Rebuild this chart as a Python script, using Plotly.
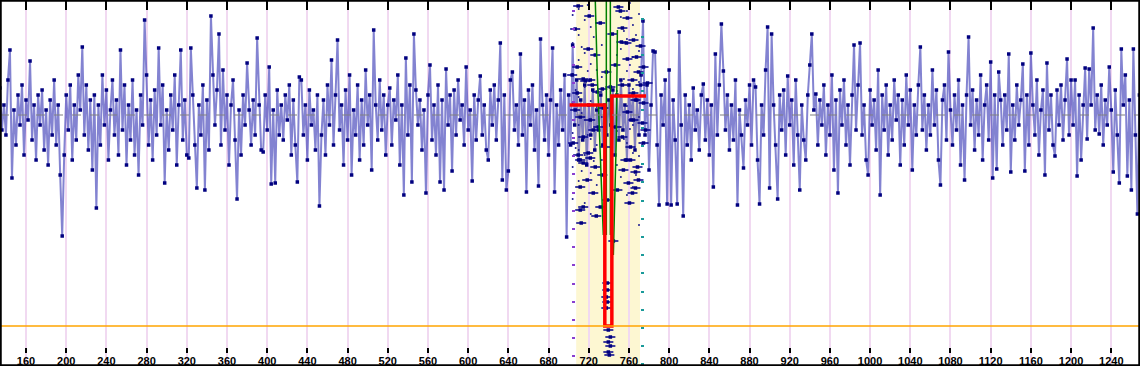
import plotly.graph_objects as go

# ---------------- data ----------------
X_START = 134
X_STEP = 2
flux = [
    27, -15, 10, -20, 35, 65, -63, 5, -30, 20, -10, 30, -40, 15, -5, 54, -25, 10, -45, 20,
    -10, 25, -35, 5, -50, 15, -20, 35, -30, 10, -60, -121, -40, 20, -15, 30, -45, 10, -25, 40,
    5, 68, -20, 30, -35, 15, -55, 20, -93, 10, -30, 40, -10, 25, -45, 5, 35, -20, 15, -40,
    65, -15, 30, -50, 10, -25, 35, -40, 5, -60, 20, -10, 95, 40, -30, 15, -45, 25, -20, 67,
    -10, 30, -68, 5, -35, 20, -15, 40, -50, 10, 65, -25, 15, -40, -43, 67, 20, -30, -73, 10,
    -20, 30, -75, 15, -35, 99, 40, -10, 25, 81, -30, 45, -15, 20, -50, 10, 35, -25, -84, 5,
    -40, 20, -10, 52, 5, -30, 15, -20, 77, 10, -35, -37, 20, -15, 48, -69, 5, -68, 25, -20,
    10, -25, 20, -5, 30, -40, 15, -30, -67, 38, 35, -20, 10, -45, 25, -10, 5, -35, 20, -91,
    -20, 15, -40, 30, -10, 55, -30, 20, 75, -15, 10, -50, 25, -25, 40, -60, 5, -20, 30, -45,
    15, -30, 45, -10, 20, -55, 85, 10, -25, 35, -15, 20, -40, 10, 27, -30, 15, -5, 40, -50,
    10, -80, 57, -20, 30, -67, 81, 25, -10, 15, -35, 5, -78, 20, 50, -25, 10, -40, 30, -67,
    15, -75, 46, -10, 20, -56, 25, -20, 35, -5, 10, -30, 48, -15, 5, -66, 20, -25, 15, 39,
    -20, 10, -35, -45, 25, -10, 30, -25, 15, 72, -65, 20, -75, -56, 35, 43, -15, 10, -30, 61,
    -20, 15, -77, 25, -10, 30, -35, 5, -71, 76, 10, -25, 20, -40, 15, 67, -77, 10, -30, 25,
    -15, 40, -122, 20, -30, 70, -10, 35, -45, 15, -25, 30, -50, 10, -20, 25, -35, 5, -15, 20,
    -30, 10, -20, 15, -10, 25, -40, 20, -25, 35, -15, 10, -45, 30, -5, 20, -35, 15, -20, 40,
    94, -20, 30, -55, 10, 64, 63, -30, -90, 20, -10, 35, -89, 45, -90, 15, -25, -89, 83, -10,
    -101, 20, -30, 10, -45, 27, -15, 5, -35, 20, 31, -25, 15, -40, 10, -72, 61, -20, 30, 91,
    44, -15, 20, -35, 10, -25, 35, -90, 5, -20, -53, 15, -10, 30, -30, 35, 28, -45, -89, 10,
    -20, 45, 88, -73, 81, 10, -30, -84, 20, -15, 25, -40, 39, -10, 15, -50, 35, -20, -75, 10,
    -25, -45, 20, 50, 81, 5, 21, -30, 15, -10, 30, -40, 10, -20, 40, -55, 15, -78, 25, -10,
    35, -30, 10, -50, 20, 70, -15, 30, 72, -20, 10, -45, -60, 25, -10, 15, -35, 45, -80, 20,
    -15, 30, -40, 10, -25, 35, -5, 20, -50, 15, -30, 40, -10, 25, -55, 10, -20, 30, 68, -15,
    20, -35, 10, -20, 45, -10, 25, -45, -70, 15, 30, -25, 63, 5, -30, 20, -15, 35, -50, 10,
    -65, 20, 78, -10, 25, -35, 15, -20, 40, -45, 10, 30, -25, 53, -63, 20, -54, 43, 15, -30,
    20, -15, 61, -57, 10, -25, 30, -10, 15, 51, -56, 20, -30, 62, 10, -20, 35, -40, 5, 25,
    -60, 52, -15, 20, -30, -41, 25, -10, 30, -25, 15, 56, -20, 35, -10, 35, -61, 20, -45, 10,
    47, -24, 46, 10, 87, -15, 20, -19, 30, -30, 15, -10, 48, 5, -57, 25, -20, -68, 66, 10,
    40, -61, 15, -75, 66, -20, -99, 20,
]
x_main = [X_START + X_STEP * i for i in range(len(flux))]

# folded points inside the highlighted window (with horizontal error bars)
fold_x = [709.5, 719.5, 726.5, 743.5, 753.5, 752.5, 757.5, 758.5, 771.5, 774.5,
          769.5, 737.5, 716.5, 708.5, 721.5, 733.5, 753.5, 771.5, 764.5, 703.5,
          714.5, 723.5, 708.5, 728.5, 763.5, 778.5, 766.5, 774.5, 706.5, 711.5,
          721.5, 724.5, 714.5, 704.5, 729.5, 758.5, 764.5, 773.5, 753.5, 761.5,
          774.5, 719.5, 711.5, 726.5, 756.5, 768.5, 741.5, 734.5, 746.5, 736.5,
          709.5, 714.5, 721.5, 718.5, 711.5, 724.5, 738.5, 748.5, 759.5, 766.5,
          761.5, 754.5, 766.5, 769.5, 714.5, 731.5, 763.5, 711.5, 738.5, 737.5,
          738.5, 739.5, 741.5, 739.5, 741.5, 739.5, 740.5, 737.5, 738.5, 744.5,
          749.5, 758.5, 764.5, 720.5, 706.5, 731.5, 751.5, 767.5, 727.5, 760.5,
          712.5, 746.5, 733.5, 776.5]
fold_y = [109, 66, 60, 81, 87, 73, 72, 56, 69, 48,
          43, 43, 34, 48, 35, 26, 30, 30, 22, 40,
          36, 30, 22, 23, 35, 32, 15, 12, 5, -2,
          -5, -15, -22, -28, -12, 3, -5, -8, -22, -32,
          -28, -38, -45, -52, -45, -52, 28, 7, -12, -32,
          -40, -48, -43, -65, -72, -78, -85, -75, -68, -73,
          -45, -55, -57, -65, -92, -92, -78, -95, -175, -182,
          -187, -215, -222, -227, -231, -237, -240, -193, -168, -126,
          108, 97, 75, 99, 86, 92, 104, 58, -101, -88,
          -108, 50, -60, -15]
fold_err = [5] * len(fold_x)

# faint dots inside the window
dots_x = [704, 704, 704, 704, 704, 704, 704, 710, 710, 710, 710, 710, 710, 710,
          716, 716, 716, 716, 716, 716, 722, 722, 722, 722, 722, 722,
          728, 728, 728, 728, 728, 733, 733, 733, 733, 748, 748, 748, 748,
          752, 752, 752, 752, 752, 758, 758, 758, 758, 758, 758,
          764, 764, 764, 764, 764, 764, 770, 770, 770, 770, 770, 770,
          707, 707, 707, 713, 713, 713, 719, 719, 719, 725, 725, 725,
          755, 755, 755, 761, 761, 761, 767, 767, 767, 773, 773, 773]
dots_y = [100, 72, 41, 12, -18, -52, -84, 106, 80, 55, 18, -10, -35, -66,
          95, 62, 28, -5, -40, -88, 88, 51, 14, -24, -58, -99,
          92, 45, 8, -30, -70, 70, 38, -2, -45, 60, 24, -16, -50,
          98, 66, 20, -12, -62, 104, 76, 44, 9, -28, -80,
          90, 58, 26, -10, -38, -72, 101, 64, 33, -2, -41, -110,
          86, 25, -33, 68, 2, -56, 110, 44, -20, 78, 30, -46,
          84, 36, -24, 112, 50, -14, 80, 18, -60, 94, 40, -30]

# model curves
red_x = [701, 736, 736, 743, 743, 777]
red_y = [10, 10, -211, -211, 19, 19]
green_lines = [
    ([726.5, 728.5, 734.5], [115, 40, -120]),
    ([737.5, 737.5], [115, -120]),
    ([741.5, 741.5], [115, -120]),
    ([748.5, 747.5, 744.5], [85, -20, -140]),
]

BASELINE = 0
THRESHOLD = -211
WINDOW = (707.5, 771.0)
X_RANGE = (134.1, 1268.6)
Y_RANGE = (-251, 115)
TICKS = [160, 200, 240, 280, 320, 360, 400, 440, 480, 520, 560, 600, 640, 680, 720, 760,
         800, 840, 880, 920, 960, 1000, 1040, 1080, 1120, 1160, 1200, 1240]

# ---------------- figure ----------------
fig = go.Figure()

fig.add_trace(go.Scatter(
    x=x_main, y=flux, mode="lines+markers",
    line=dict(color="rgba(55,55,180,0.62)", width=2),
    marker=dict(color="#00007f", size=3.5, symbol="square"),
    showlegend=False, hoverinfo="skip"))

fig.add_trace(go.Scatter(
    x=dots_x, y=dots_y, mode="markers",
    marker=dict(color="#1a1a90", size=2),
    showlegend=False, hoverinfo="skip"))

fig.add_trace(go.Scatter(
    x=fold_x, y=fold_y, mode="markers",
    marker=dict(color="#00007f", size=3.5, symbol="square"),
    error_x=dict(type="data", array=fold_err, color="#00008b", thickness=1.5, width=0),
    showlegend=False, hoverinfo="skip"))

for gx, gy in green_lines:
    fig.add_trace(go.Scatter(x=gx, y=gy, mode="lines",
                             line=dict(color="#008000", width=1.5),
                             showlegend=False, hoverinfo="skip"))

fig.add_trace(go.Scatter(x=red_x, y=red_y, mode="lines",
                         line=dict(color="#ff0000", width=3.5),
                         showlegend=False, hoverinfo="skip"))

# dummy traces for the auxiliary axes
fig.add_trace(go.Scatter(x=[None], y=[None], xaxis="x2", showlegend=False))
fig.add_trace(go.Scatter(x=[None], y=[None], xaxis="x3", showlegend=False))
fig.add_trace(go.Scatter(x=[None], y=[None], yaxis="y2", showlegend=False))
fig.add_trace(go.Scatter(x=[None], y=[None], yaxis="y3", showlegend=False))

fig.add_shape(type="rect", xref="x", yref="paper", x0=WINDOW[0], x1=WINDOW[1], y0=0, y1=1,
              fillcolor="#fdf7d2", line=dict(width=0), layer="below")
fig.add_shape(type="line", xref="paper", yref="y", x0=0, x1=1, y0=BASELINE, y1=BASELINE,
              line=dict(color="#808080", width=1.2, dash="dash"), layer="above")
fig.add_shape(type="line", xref="paper", yref="y", x0=0, x1=1, y0=THRESHOLD, y1=THRESHOLD,
              line=dict(color="#ffa500", width=1.5), layer="above")
fig.add_shape(type="rect", xref="paper", yref="paper", x0=0, x1=1, y0=0, y1=1,
              line=dict(color="black", width=3.5), layer="above")

H = 366.0
fig.update_layout(
    width=1140, height=366,
    margin=dict(l=0, r=0, t=0, b=0, pad=0, autoexpand=False),
    paper_bgcolor="white", plot_bgcolor="white",
    xaxis=dict(range=list(X_RANGE), side="top", tickmode="array", tickvals=TICKS,
               ticks="inside", ticklen=10, tickwidth=2, tickcolor="black",
               showticklabels=False, showgrid=True, gridcolor="#f1d9f1", gridwidth=1.5,
               zeroline=False, showline=False, automargin=False),
    xaxis2=dict(range=list(X_RANGE), overlaying="x", anchor="free",
                position=(H - 347) / H, side="bottom", tickmode="array", tickvals=TICKS,
                ticks="outside", ticklen=5, tickwidth=2, tickcolor="black",
                showticklabels=False, showgrid=False, zeroline=False, showline=False,
                automargin=False),
    xaxis3=dict(range=list(X_RANGE), overlaying="x", anchor="free", position=(H - 353) / H,
                side="bottom", tickmode="array", tickvals=TICKS,
                ticktext=[str(t) for t in TICKS], ticks="",
                tickfont=dict(family="Liberation Sans", size=11, color="black",
                              weight="bold"),
                showgrid=False, zeroline=False, showline=False, automargin=False),
    yaxis=dict(range=list(Y_RANGE), showticklabels=False, showgrid=False, zeroline=False,
               ticks="", showline=False, automargin=False),
    yaxis2=dict(range=list(Y_RANGE), overlaying="y", anchor="free", position=575 / 1140,
                side="left", tick0=-114, dtick=18.2, ticks="outside", ticklen=3,
                tickwidth=1.5, tickcolor="#8a3fd0", showticklabels=False, showgrid=False,
                zeroline=False, showline=False, automargin=False),
    yaxis3=dict(range=list(Y_RANGE), overlaying="y", anchor="free", position=640 / 1140,
                side="right", tick0=-122, dtick=18.2, ticks="outside", ticklen=3,
                tickwidth=1.5, tickcolor="#1a9a9a", showticklabels=False, showgrid=False,
                zeroline=False, showline=False, automargin=False),
    showlegend=False,
)

fig.write_html("out.html", config={"displayModeBar": False},
               post_script="document.body.style.margin='0px';document.body.style.overflow='hidden';")
